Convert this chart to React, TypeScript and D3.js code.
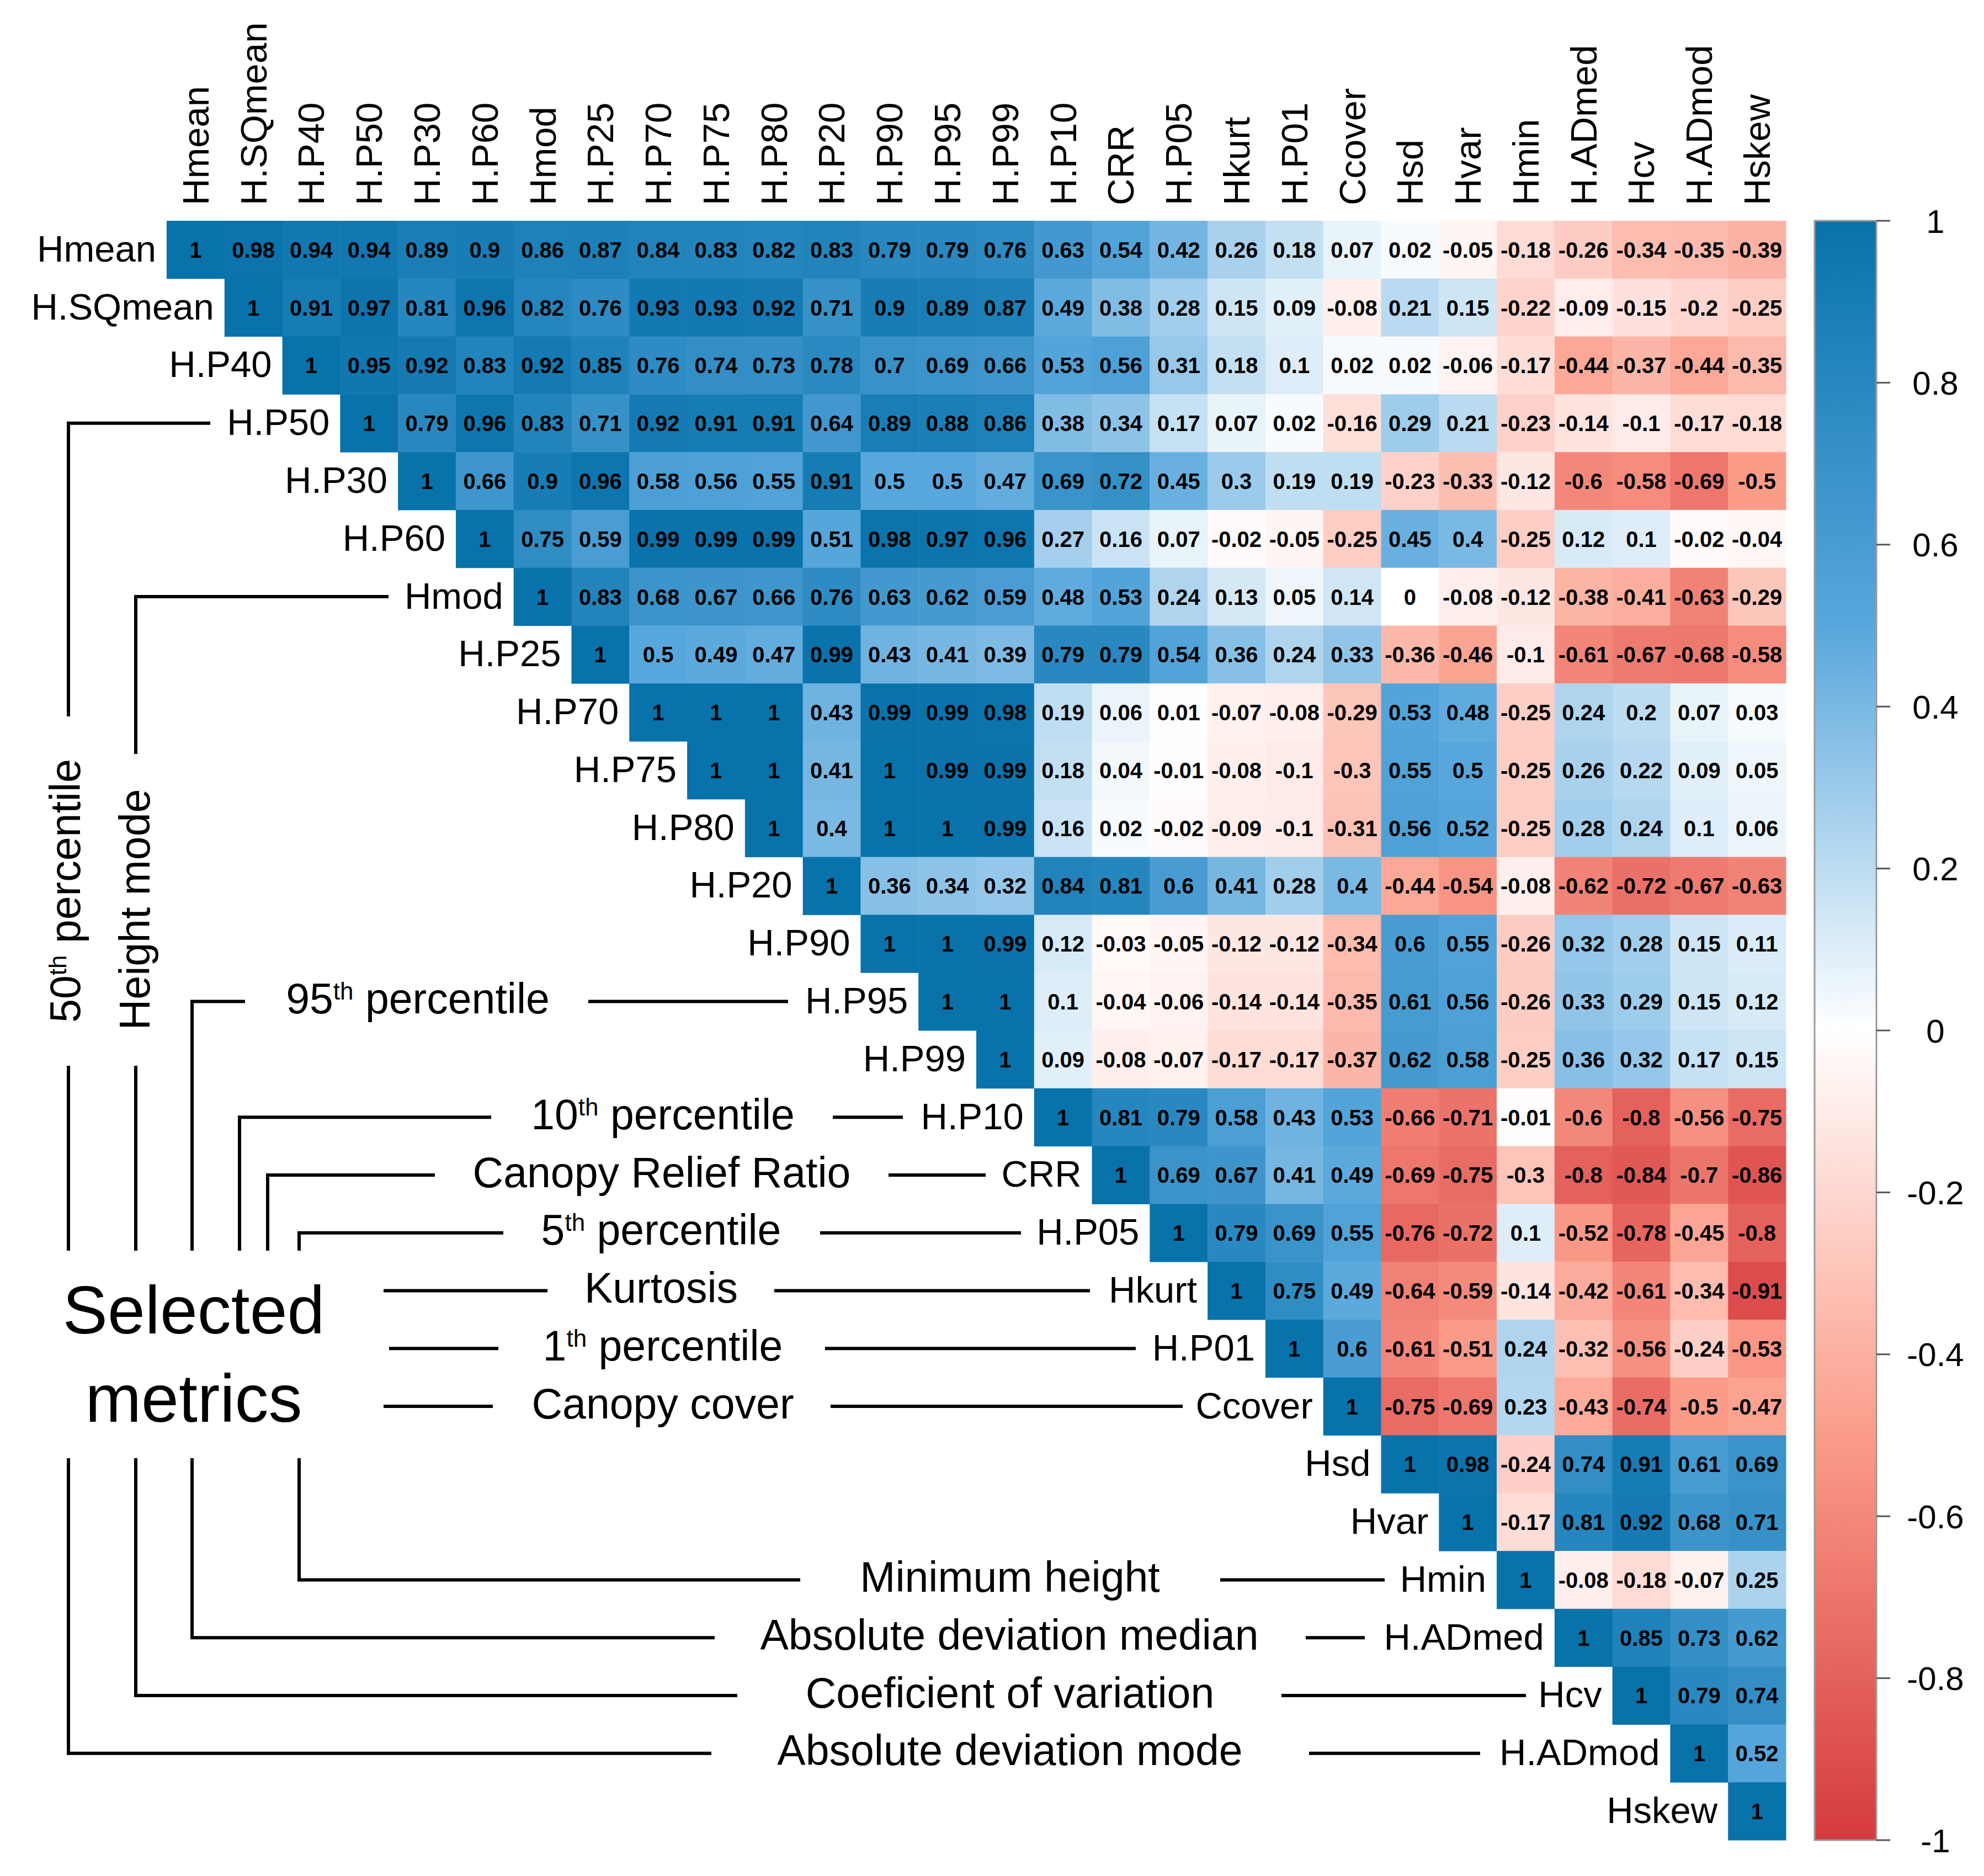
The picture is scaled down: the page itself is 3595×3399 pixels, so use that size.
import React, { useEffect } from "react";
import * as d3 from "d3";

// metric order used for rows and columns
const metrics = [
  "Hmean", "H.SQmean", "H.P40", "H.P50", "H.P30", "H.P60", "Hmod", "H.P25",
  "H.P70", "H.P75", "H.P80", "H.P20", "H.P90", "H.P95", "H.P99", "H.P10",
  "CRR", "H.P05", "Hkurt", "H.P01", "Ccover", "Hsd", "Hvar", "Hmin",
  "H.ADmed", "Hcv", "H.ADmod", "Hskew",
];

// upper triangle, row i starts at the diagonal
const corrUpper: number[][] = [
  [1, 0.98, 0.94, 0.94, 0.89, 0.9, 0.86, 0.87, 0.84, 0.83, 0.82, 0.83, 0.79, 0.79, 0.76, 0.63, 0.54, 0.42, 0.26, 0.18, 0.07, 0.02, -0.05, -0.18, -0.26, -0.34, -0.35, -0.39],
  [1, 0.91, 0.97, 0.81, 0.96, 0.82, 0.76, 0.93, 0.93, 0.92, 0.71, 0.9, 0.89, 0.87, 0.49, 0.38, 0.28, 0.15, 0.09, -0.08, 0.21, 0.15, -0.22, -0.09, -0.15, -0.2, -0.25],
  [1, 0.95, 0.92, 0.83, 0.92, 0.85, 0.76, 0.74, 0.73, 0.78, 0.7, 0.69, 0.66, 0.53, 0.56, 0.31, 0.18, 0.1, 0.02, 0.02, -0.06, -0.17, -0.44, -0.37, -0.44, -0.35],
  [1, 0.79, 0.96, 0.83, 0.71, 0.92, 0.91, 0.91, 0.64, 0.89, 0.88, 0.86, 0.38, 0.34, 0.17, 0.07, 0.02, -0.16, 0.29, 0.21, -0.23, -0.14, -0.1, -0.17, -0.18],
  [1, 0.66, 0.9, 0.96, 0.58, 0.56, 0.55, 0.91, 0.5, 0.5, 0.47, 0.69, 0.72, 0.45, 0.3, 0.19, 0.19, -0.23, -0.33, -0.12, -0.6, -0.58, -0.69, -0.5],
  [1, 0.75, 0.59, 0.99, 0.99, 0.99, 0.51, 0.98, 0.97, 0.96, 0.27, 0.16, 0.07, -0.02, -0.05, -0.25, 0.45, 0.4, -0.25, 0.12, 0.1, -0.02, -0.04],
  [1, 0.83, 0.68, 0.67, 0.66, 0.76, 0.63, 0.62, 0.59, 0.48, 0.53, 0.24, 0.13, 0.05, 0.14, 0, -0.08, -0.12, -0.38, -0.41, -0.63, -0.29],
  [1, 0.5, 0.49, 0.47, 0.99, 0.43, 0.41, 0.39, 0.79, 0.79, 0.54, 0.36, 0.24, 0.33, -0.36, -0.46, -0.1, -0.61, -0.67, -0.68, -0.58],
  [1, 1, 1, 0.43, 0.99, 0.99, 0.98, 0.19, 0.06, 0.01, -0.07, -0.08, -0.29, 0.53, 0.48, -0.25, 0.24, 0.2, 0.07, 0.03],
  [1, 1, 0.41, 1, 0.99, 0.99, 0.18, 0.04, -0.01, -0.08, -0.1, -0.3, 0.55, 0.5, -0.25, 0.26, 0.22, 0.09, 0.05],
  [1, 0.4, 1, 1, 0.99, 0.16, 0.02, -0.02, -0.09, -0.1, -0.31, 0.56, 0.52, -0.25, 0.28, 0.24, 0.1, 0.06],
  [1, 0.36, 0.34, 0.32, 0.84, 0.81, 0.6, 0.41, 0.28, 0.4, -0.44, -0.54, -0.08, -0.62, -0.72, -0.67, -0.63],
  [1, 1, 0.99, 0.12, -0.03, -0.05, -0.12, -0.12, -0.34, 0.6, 0.55, -0.26, 0.32, 0.28, 0.15, 0.11],
  [1, 1, 0.1, -0.04, -0.06, -0.14, -0.14, -0.35, 0.61, 0.56, -0.26, 0.33, 0.29, 0.15, 0.12],
  [1, 0.09, -0.08, -0.07, -0.17, -0.17, -0.37, 0.62, 0.58, -0.25, 0.36, 0.32, 0.17, 0.15],
  [1, 0.81, 0.79, 0.58, 0.43, 0.53, -0.66, -0.71, -0.01, -0.6, -0.8, -0.56, -0.75],
  [1, 0.69, 0.67, 0.41, 0.49, -0.69, -0.75, -0.3, -0.8, -0.84, -0.7, -0.86],
  [1, 0.79, 0.69, 0.55, -0.76, -0.72, 0.1, -0.52, -0.78, -0.45, -0.8],
  [1, 0.75, 0.49, -0.64, -0.59, -0.14, -0.42, -0.61, -0.34, -0.91],
  [1, 0.6, -0.61, -0.51, 0.24, -0.32, -0.56, -0.24, -0.53],
  [1, -0.75, -0.69, 0.23, -0.43, -0.74, -0.5, -0.47],
  [1, 0.98, -0.24, 0.74, 0.91, 0.61, 0.69],
  [1, -0.17, 0.81, 0.92, 0.68, 0.71],
  [1, -0.08, -0.18, -0.07, 0.25],
  [1, 0.85, 0.73, 0.62],
  [1, 0.79, 0.74],
  [1, 0.52],
  [1],
];

const colorTicks = [1, 0.8, 0.6, 0.4, 0.2, 0, -0.2, -0.4, -0.6, -0.8, -1];

// selected metrics and their descriptions (base, superscript, rest)
const annotTargets = [
  "H.P50", "Hmod", "H.P95", "H.P10", "CRR", "H.P05", "Hkurt",
  "H.P01", "Ccover", "Hmin", "H.ADmed", "Hcv", "H.ADmod",
];
const annotNames: [string, string, string][] = [
  ["50", "th", " percentile"],
  ["Height mode", "", ""],
  ["95", "th", " percentile"],
  ["10", "th", " percentile"],
  ["Canopy Relief Ratio", "", ""],
  ["5", "th", " percentile"],
  ["Kurtosis", "", ""],
  ["1", "th", " percentile"],
  ["Canopy cover", "", ""],
  ["Minimum height", "", ""],
  ["Absolute deviation median", "", ""],
  ["Coeficient of variation", "", ""],
  ["Absolute deviation mode", "", ""],
];

// where each annotation's connector lines sit (page px)
type Layout = {
  bx?: number;
  dir?: "down" | "up";
  l1: [number, number];
  tx?: number;
  l2?: [number, number];
  rot?: { x: number; y: number; from: number; to: number };
};
const annotLayout: Layout[] = [
  { bx: 124, dir: "down", l1: [124, 381], rot: { x: 118, y: 1614, from: 1298, to: 1931 } },
  { bx: 246, dir: "down", l1: [246, 704], rot: { x: 244, y: 1648, from: 1366, to: 1931 } },
  { bx: 348, dir: "down", l1: [348, 444], tx: 757, l2: [1066, 1428] },
  { bx: 434, dir: "down", l1: [434, 890], tx: 1201, l2: [1509, 1636] },
  { bx: 485, dir: "down", l1: [485, 788], tx: 1199, l2: [1610, 1786] },
  { bx: 542, dir: "down", l1: [542, 912], tx: 1198, l2: [1486, 1850] },
  { l1: [695, 992], tx: 1198, l2: [1403, 1975] },
  { l1: [705, 903], tx: 1201, l2: [1495, 2058] },
  { l1: [695, 893], tx: 1201, l2: [1505, 2143] },
  { bx: 542, dir: "up", l1: [542, 1450], tx: 1830, l2: [2211, 2509] },
  { bx: 348, dir: "up", l1: [348, 1295], tx: 1829, l2: [2366, 2473] },
  { bx: 246, dir: "up", l1: [246, 1336], tx: 1830, l2: [2322, 2765] },
  { bx: 124, dir: "up", l1: [124, 1289], tx: 1830, l2: [2372, 2682] },
];

const W = 3595;
const H = 3399;
const grid = { left: 302, top: 400, right: 3236, bottom: 3334 };
const bar = { x: 3288, w: 112 };
const bracketEnd = 2266; // upper brackets stop above "Selected metrics"
const bracketStart = 2642; // lower brackets start below it
const FONT = "'Liberation Sans', Arial, Helvetica, sans-serif";

const x = d3.scaleBand<string>().domain(metrics).range([grid.left, grid.right]);
const y = d3.scaleBand<string>().domain(metrics).range([grid.top, grid.bottom]);
const bw = x.bandwidth();
const bh = y.bandwidth();

const color = d3
  .scaleLinear<string>()
  .domain([-1, -0.5, 0, 0.5, 1])
  .range(["#d53a3e", "#fb9c89", "#ffffff", "#58a7dc", "#0872ab"])
  .interpolate(d3.interpolateRgb);

const barY = d3.scaleLinear().domain([-1, 1]).range([grid.bottom, grid.top]);

const cells = corrUpper.flatMap((row, i) =>
  row.map((v, k) => ({ r: metrics[i], c: metrics[i + k], v }))
);

const SupText: React.FC<{ parts: [string, string, string] }> = ({ parts }) => (
  <>
    {parts[0]}
    {parts[1] && (
      <tspan fontSize={44} dy={-25}>
        {parts[1]}
      </tspan>
    )}
    {parts[2] && <tspan dy={parts[1] ? 25 : 0}>{parts[2]}</tspan>}
  </>
);

const App: React.FC = () => {
  useEffect(() => {
    document.body.style.margin = "0";
  }, []);

  const gradStops = d3.range(0, 1.0001, 0.025);

  return (
    <svg width={W} height={H} viewBox={`0 0 ${W} ${H}`} style={{ display: "block", background: "#fff" }} fontFamily={FONT}>
      <defs>
        <linearGradient id="cbar" x1="0" y1="0" x2="0" y2="1">
          {gradStops.map((t) => (
            <stop key={t} offset={t} stopColor={color(1 - 2 * t)} />
          ))}
        </linearGradient>
      </defs>

      {/* matrix cells */}
      <g>
        {cells.map((d) => (
          <rect
            key={d.r + "|" + d.c}
            x={x(d.c)!}
            y={y(d.r)!}
            width={bw + 0.5}
            height={bh + 0.5}
            fill={color(d.v)}
          />
        ))}
      </g>
      <g fontWeight="bold" fontSize={40} textAnchor="middle" fill="#000">
        {cells.map((d) => (
          <text key={d.r + "|" + d.c} x={x(d.c)! + bw / 2} y={y(d.r)! + bh / 2} dy="0.36em">
            {String(d.v)}
          </text>
        ))}
      </g>

      {/* row labels */}
      <g fontSize={67} textAnchor="end">
        {metrics.map((m) => (
          <text key={m} x={x(m)! - 19} y={y(m)! + bh / 2} dy="0.32em">
            {m}
          </text>
        ))}
      </g>

      {/* column labels */}
      <g fontSize={67} textAnchor="start">
        {metrics.map((m) => (
          <text key={m} transform={`translate(${x(m)! + bw / 2},${grid.top - 28}) rotate(-90)`} dy="0.35em">
            {m}
          </text>
        ))}
      </g>

      {/* colour bar */}
      <rect x={bar.x} y={grid.top} width={bar.w} height={grid.bottom - grid.top} fill="url(#cbar)" stroke="#9a9a9a" strokeWidth={3} />
      <g>
        {colorTicks.map((t) => (
          <g key={t}>
            <line x1={bar.x + bar.w} x2={bar.x + bar.w + 25} y1={barY(t)} y2={barY(t)} stroke="#555" strokeWidth={3} />
            <text x={3507} y={barY(t)} dy="0.36em" textAnchor="middle" fontSize={60}>
              {String(t)}
            </text>
          </g>
        ))}
      </g>

      {/* selected metrics annotation */}
      <g fontSize={122} textAnchor="middle">
        <text x={351} y={2416}>Selected</text>
        <text x={351} y={2576}>metrics</text>
      </g>
      <g stroke="#000" strokeWidth={6} fill="none" strokeLinejoin="miter">
        {annotTargets.map((t, i) => {
          const L = annotLayout[i];
          const yr = y(t)! + bh / 2;
          const paths: string[] = [];
          if (L.dir === "down" && L.bx !== undefined) {
            if (L.rot) {
              paths.push(`M${L.l1[1]},${yr}H${L.bx}V${L.rot.from}`);
              paths.push(`M${L.bx},${L.rot.to}V${bracketEnd}`);
            } else {
              paths.push(`M${L.l1[1]},${yr}H${L.bx}V${bracketEnd}`);
            }
          } else if (L.dir === "up" && L.bx !== undefined) {
            paths.push(`M${L.bx},${bracketStart}V${yr}H${L.l1[1]}`);
          } else {
            paths.push(`M${L.l1[0]},${yr}H${L.l1[1]}`);
          }
          if (L.l2) paths.push(`M${L.l2[0]},${yr}H${L.l2[1]}`);
          return paths.map((p, k) => <path key={t + k} d={p} />);
        })}
      </g>
      <g fontSize={77} textAnchor="middle" fill="#000">
        {annotTargets.map((t, i) => {
          const L = annotLayout[i];
          const yr = y(t)! + bh / 2;
          if (L.rot) {
            return (
              <text key={t} transform={`translate(${L.rot.x},${L.rot.y}) rotate(-90)`} dy="0.35em">
                <SupText parts={annotNames[i]} />
              </text>
            );
          }
          return (
            <text key={t} x={L.tx} y={yr} dy="0.28em">
              <SupText parts={annotNames[i]} />
            </text>
          );
        })}
      </g>
    </svg>
  );
};

export default App;
